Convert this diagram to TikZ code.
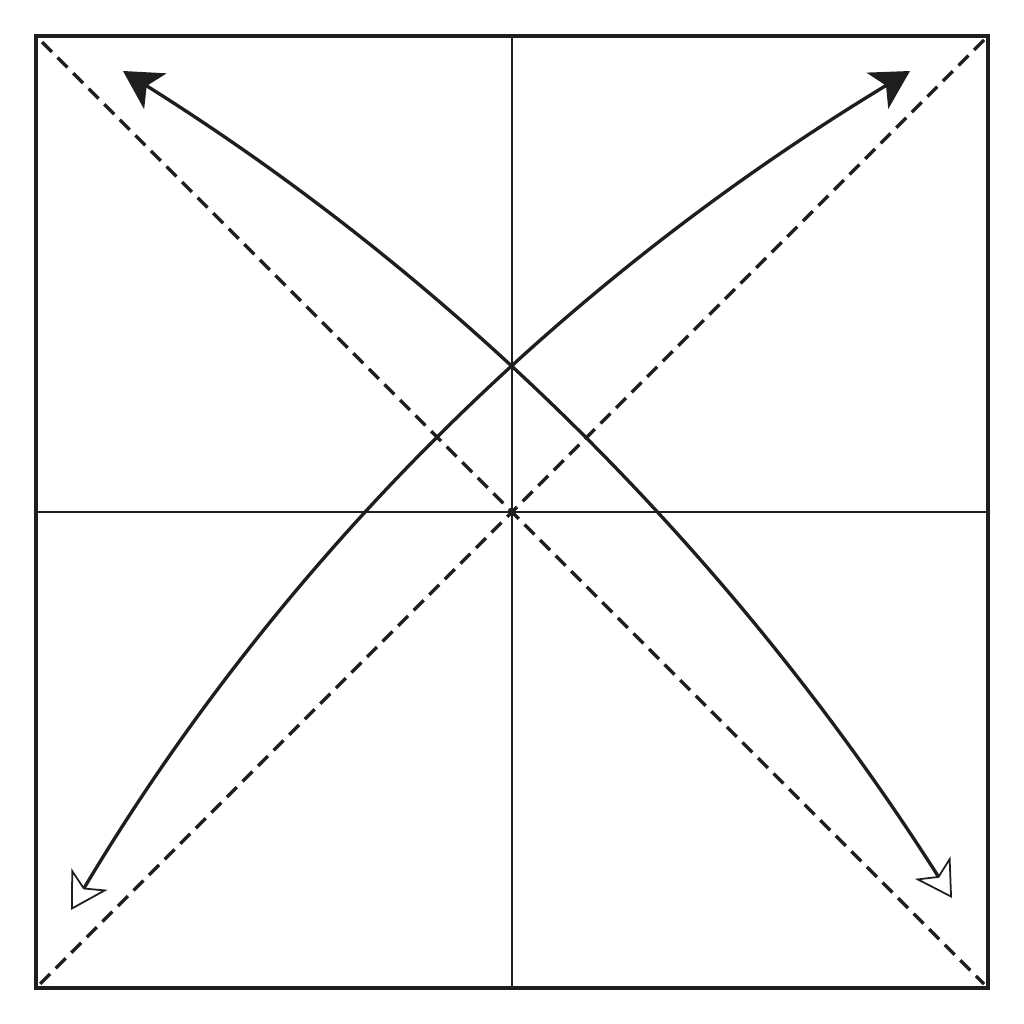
\documentclass[tikz,border=0pt]{standalone}
\usetikzlibrary{arrows.meta}
\definecolor{ink}{HTML}{1E1E1E}
\begin{document}
\begin{tikzpicture}[x=0.01cm,y=-0.01cm,
  frame/.style={draw=ink,line width=1.2pt},
  midline/.style={draw=ink,line width=0.6pt},
  fold/.style={draw=ink,line width=0.95pt, dash pattern=on 0.14cm off 0.08cm},
  move/.style={draw=ink,line width=0.95pt},
]
\useasboundingbox (0,0) rectangle (1024,1024);
\coordinate (TL) at (36,36);
\coordinate (TR) at (988,36);
\coordinate (BL) at (36,988);
\coordinate (BR) at (988,988);
\coordinate (C) at (512,512);
% frame
\draw[frame] (TL) rectangle (BR);
% midlines
\draw[midline] (512,36) -- (512,988);
\draw[midline] (36,512) -- (988,512);
% dashed diagonals
\draw[fold] (42,42) -- (984,984);
\draw[fold] (984,40) -- (40,984);
% curved arrows
\coordinate (a1) at (71,910);
\coordinate (b1) at (910,71);
\coordinate (a2) at (123,71);
\coordinate (b2) at (952,898);
\draw[move, {Stealth[open,fill=white,length=0.36cm,width=0.42cm,inset=0.1cm,line width=0.5pt]}-{Stealth[length=0.38cm,width=0.42cm,inset=0.1cm]}]
  (a1) .. controls (278,563) and (558,284) .. (b1);
\draw[move, {Stealth[length=0.38cm,width=0.42cm,inset=0.1cm]}-{Stealth[open,fill=white,length=0.36cm,width=0.42cm,inset=0.1cm,line width=0.5pt]}]
  (a2) .. controls (461,283) and (737,560) .. (b2);
\end{tikzpicture}
\end{document}
